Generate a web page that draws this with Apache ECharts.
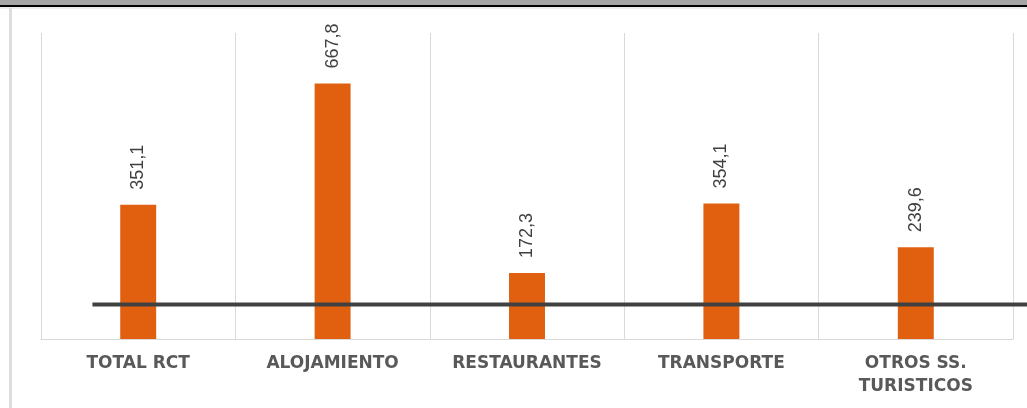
<!DOCTYPE html>
<html>
<head>
<meta charset="utf-8">
<script src="https://cdn.jsdelivr.net/npm/echarts@6/dist/echarts.min.js"></script>
<style>
html,body{margin:0;padding:0;background:#fff;}
#frameTop{position:absolute;left:0;top:0;width:1027px;height:5px;background:#a5a5a5;}
#frameTop2{position:absolute;left:0;top:5px;width:1027px;height:2px;background:#000;}
#frameTop3{position:absolute;left:0;top:7px;width:1027px;height:2px;background:#ececec;}
#frameLeft{position:absolute;left:9px;top:8px;width:3px;height:400px;background:#dedede;}
#chart{position:absolute;left:0;top:0;width:1027px;height:408px;}
</style>
</head>
<body>
<div id="chart"></div>
<div id="frameTop"></div>
<div id="frameTop2"></div>
<div id="frameTop3"></div>
<div id="frameLeft"></div>
<script>
const categories = ['TOTAL RCT', 'ALOJAMIENTO', 'RESTAURANTES', 'TRANSPORTE', 'OTROS SS.\nTURISTICOS'];
const values = [351.1, 667.8, 172.3, 354.1, 239.6];
const refLineValue = 90;
const refLineStart = 0.09;   // fraction of the full chart width
const refLineEnd = 1.0;      // runs to the right edge of the picture

const chart = echarts.init(document.getElementById('chart'), null, {renderer: 'canvas'});
chart.setOption({
  animation: false,
  backgroundColor: '#fff',
  grid: [
    {left: 41, right: 14, top: 33, bottom: 69, containLabel: false},
    {left: 0, right: 0, top: 33, bottom: 69, containLabel: false}
  ],
  xAxis: [{
    type: 'category',
    gridIndex: 0,
    data: categories,
    axisLine: {show: true, lineStyle: {color: '#d9d9d9', width: 1}},
    axisTick: {show: false},
    splitLine: {show: true, interval: 0, lineStyle: {color: '#d9d9d9', width: 1}},
    axisLabel: {
      interval: 0, margin: 13,
      fontFamily: 'DejaVu Sans', fontWeight: 'bold', fontSize: 17, lineHeight: 23,
      color: '#595959'
    }
  }, {
    type: 'value', gridIndex: 1, min: 0, max: 1, show: false
  }],
  yAxis: [{
    type: 'value', gridIndex: 0, min: 0, max: 800, show: false,
    splitLine: {show: false}
  }, {
    type: 'value', gridIndex: 1, min: 0, max: 800, show: false,
    splitLine: {show: false}
  }],
  series: [{
    type: 'bar',
    xAxisIndex: 0, yAxisIndex: 0,
    data: values,
    barWidth: '18.5%',
    itemStyle: {color: '#e06010'},
    label: {
      show: true, position: 'top', rotate: 90, distance: 15,
      align: 'left', verticalAlign: 'middle',
      fontFamily: 'Liberation Sans', fontSize: 18, color: '#404040',
      formatter: p => p.value.toFixed(1).replace('.', ',')
    }
  }, {
    type: 'line',
    xAxisIndex: 1, yAxisIndex: 1,
    data: [[refLineStart, refLineValue], [refLineEnd, refLineValue]],
    symbol: 'none',
    z: 5,
    lineStyle: {color: '#404040', width: 4}
  }]
});
</script>
</body>
</html>
